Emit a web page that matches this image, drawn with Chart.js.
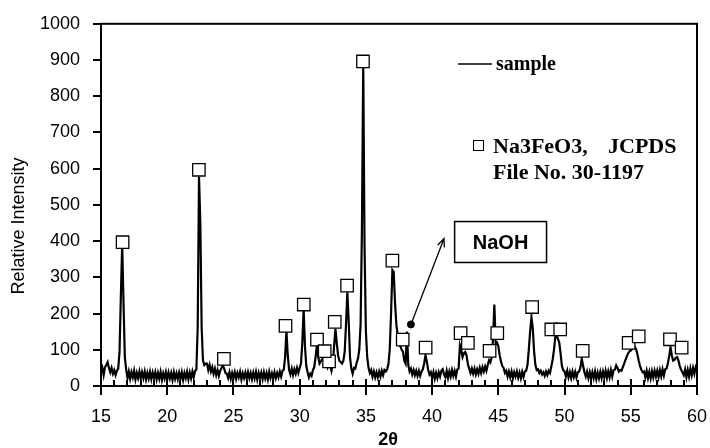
<!DOCTYPE html>
<html>
<head>
<meta charset="utf-8">
<script src="https://cdn.jsdelivr.net/npm/chart.js@4.4.1/dist/chart.umd.min.js"></script>
<style>
  html, body { margin: 0; padding: 0; background: #fff; }
  #wrap { width: 710px; height: 448px; }
</style>
</head>
<body>
<div id="wrap"><canvas id="xrdChart" width="710" height="448"></canvas></div>
<script>
// scan: 2theta from 15 to 60, one reading every 0.1 deg
const scanStart = 15;
const scanStep = 0.1;
const intensity = [
  38,50,30,52,58,66,50,38,50,34,      // 15
  44,30,42,48,95,250,392,230,80,45,   // 16
  22,40,20,38,24,42,18,36,22,40,      // 17
  20,38,22,40,18,36,21,39,19,37,      // 18
  22,38,18,36,20,39,17,35,21,38,      // 19
  18,37,21,36,17,38,20,35,19,37,      // 20
  20,38,17,36,22,39,18,37,21,40,      // 21
  24,42,45,160,578,450,160,70,58,62,  // 22
  62,44,58,40,52,34,48,30,44,28,      // 23
  42,50,57,48,36,34,22,38,20,36,      // 24
  22,38,20,36,24,39,18,35,22,37,      // 25
  20,38,22,36,19,37,21,39,18,36,      // 26
  22,37,19,38,21,36,18,39,22,35,      // 27
  20,38,22,36,24,40,26,42,45,80,      // 28
  153,85,45,32,48,30,46,34,50,36,     // 29
  50,62,120,213,110,55,38,24,34,28,   // 30
  44,52,80,112,80,62,68,74,80,58,     // 31
  62,52,68,56,42,60,110,158,120,85,   // 32
  70,66,62,70,95,170,259,180,80,48,   // 33
  34,50,48,64,75,100,170,430,890,380, // 34
  150,80,50,36,44,26,40,24,38,24,     // 35
  40,26,42,30,44,40,46,60,100,200,    // 36
  320,315,230,170,140,120,110,100,95,70, // 37
  62,150,58,40,48,32,44,30,42,28,     // 38
  42,28,40,46,62,85,68,45,32,38,      // 39
  22,38,20,36,22,38,26,42,46,32,      // 40
  24,42,22,40,26,44,28,42,26,46,      // 41
  48,112,100,80,90,94,85,60,48,36,    // 42
  48,34,48,32,46,34,50,36,52,40,      // 43
  54,42,58,71,65,80,130,225,118,120,  // 44
  110,85,68,55,50,36,42,26,40,24,     // 45
  40,22,38,26,40,23,37,21,39,25,      // 46
  40,42,58,100,150,190,160,95,58,44,  // 47
  46,36,42,32,38,28,40,30,42,36,      // 48
  54,72,100,135,140,130,120,90,55,44, // 49
  40,26,42,24,38,22,40,25,39,23,      // 50
  38,40,52,75,56,38,26,40,22,38,      // 51
  20,38,22,40,19,37,21,39,22,40,      // 52
  24,42,22,40,24,44,26,44,45,57,      // 53
  50,40,44,42,52,62,72,82,90,96,      // 54
  98,102,106,108,102,88,70,55,45,38,  // 55
  40,24,42,22,39,21,41,24,42,26,      // 56
  42,24,44,27,46,29,46,48,62,82,      // 57
  107,85,70,72,78,80,70,55,45,38,     // 58
  30,46,24,44,26,48,30,50,34,52,      // 59
  43                                  // 60
];

// Na3FeO3 reference peaks (JCPDS 30-1197) marked with squares
const refAngles = [16.63, 22.39, 24.28, 28.93, 30.31, 31.31, 32.22, 31.89, 32.65, 33.58, 34.78,
                   37.0, 37.78, 39.51, 42.15, 42.7, 44.34, 44.92, 47.55, 49.0, 49.67, 51.37,
                   54.84, 55.6, 57.96, 58.84];
const refMarks = [397, 597, 75, 166, 225, 128, 68, 96, 177, 277, 896,
                  346, 128, 106, 146, 119, 97, 146, 218, 156, 156, 97,
                  119, 137, 129, 106];

// NaOH peak: dot and arrow tip
const naohDot = [38.4, 170];
const naohArrowTip = [40.9, 407];

const yTicks = [0, 100, 200, 300, 400, 500, 600, 700, 800, 900, 1000];

const scanPoints = intensity.map((v, i) => ({ x: +(scanStart + i * scanStep).toFixed(1), y: v }));
const markPoints = refAngles.map((a, i) => ({ x: a, y: refMarks[i] }));

const decorations = {
  id: 'decorations',
  afterDraw(chart) {
    const ctx = chart.ctx;
    const area = chart.chartArea;
    const xs = chart.scales.x;
    const ys = chart.scales.y;
    ctx.save();

    // frame
    ctx.strokeStyle = '#000';
    ctx.lineWidth = 2;
    ctx.strokeRect(area.left, area.top, area.right - area.left, area.bottom - area.top);

    // x ticks: majors cross the axis, minors inside
    for (let v = 15; v <= 60; v++) {
      const px = Math.round(xs.getPixelForValue(v));
      ctx.beginPath();
      if (v % 5 === 0) {
        ctx.moveTo(px, area.bottom - 7);
        ctx.lineTo(px, area.bottom + 9);
      } else {
        ctx.moveTo(px, area.bottom - 6);
        ctx.lineTo(px, area.bottom);
      }
      ctx.stroke();
    }

    // axis titles
    ctx.fillStyle = '#000';
    ctx.font = '18px "Liberation Sans", Arial, sans-serif';
    ctx.textAlign = 'center';
    ctx.textBaseline = 'middle';
    ctx.save();
    ctx.translate(19, 226);
    ctx.rotate(-Math.PI / 2);
    ctx.fillText('Relative Intensity', 0, 0);
    ctx.restore();
    ctx.font = 'bold 18px "Liberation Sans", Arial, sans-serif';
    ctx.fillText('2θ', 388, 440);

    // legend
    ctx.lineWidth = 1.5;
    ctx.beginPath();
    ctx.moveTo(458, 64);
    ctx.lineTo(492, 64);
    ctx.stroke();
    ctx.font = 'bold 20px "Liberation Serif", "Times New Roman", serif';
    ctx.textAlign = 'left';
    ctx.textBaseline = 'alphabetic';
    ctx.fillText('sample', 496, 70);
    ctx.lineWidth = 1;
    ctx.strokeRect(473.5, 140.5, 10, 10);
    ctx.font = 'bold 22px "Liberation Serif", "Times New Roman", serif';
    ctx.fillText('Na3FeO3,', 493, 153);
    ctx.fillText('JCPDS', 608, 153);
    ctx.fillText('File No. 30-1197', 493, 179);

    // NaOH label box and arrow
    const bx0 = xs.getPixelForValue(41.7), bx1 = xs.getPixelForValue(48.64);
    const by0 = ys.getPixelForValue(454), by1 = ys.getPixelForValue(341);
    ctx.lineWidth = 1.5;
    ctx.strokeRect(bx0, by0, bx1 - bx0, by1 - by0);
    ctx.font = 'bold 20px "Liberation Sans", Arial, sans-serif';
    ctx.textAlign = 'center';
    ctx.textBaseline = 'middle';
    ctx.fillText('NaOH', (bx0 + bx1) / 2, (by0 + by1) / 2 + 1);

    const ax0 = xs.getPixelForValue(naohDot[0]), ay0 = ys.getPixelForValue(naohDot[1]);
    const ax1 = xs.getPixelForValue(naohArrowTip[0]), ay1 = ys.getPixelForValue(naohArrowTip[1]);
    ctx.lineWidth = 1.3;
    ctx.beginPath();
    ctx.moveTo(ax0, ay0);
    ctx.lineTo(ax1, ay1);
    const ang = Math.atan2(ay1 - ay0, ax1 - ax0);
    const head = 9;
    ctx.moveTo(ax1 - head * Math.cos(ang - 0.4), ay1 - head * Math.sin(ang - 0.4));
    ctx.lineTo(ax1, ay1);
    ctx.lineTo(ax1 - head * Math.cos(ang + 0.4), ay1 - head * Math.sin(ang + 0.4));
    ctx.stroke();

    ctx.restore();
  }
};

const chart = new Chart(document.getElementById('xrdChart').getContext('2d'), {
  type: 'scatter',
  data: {
    datasets: [
      {
        label: 'Na3FeO3',
        data: markPoints,
        pointStyle: 'rect',
        pointRadius: 8.8,
        pointBackgroundColor: '#fff',
        pointBorderColor: '#000',
        pointBorderWidth: 1.3,
        showLine: false,
        order: 0
      },
      {
        label: 'NaOH',
        data: [{ x: naohDot[0], y: naohDot[1] }],
        pointStyle: 'circle',
        pointRadius: 3.5,
        pointBackgroundColor: '#000',
        pointBorderColor: '#000',
        showLine: false,
        order: 0
      },
      {
        label: 'sample',
        data: scanPoints,
        showLine: true,
        borderColor: '#000',
        borderWidth: 2.2,
        pointRadius: 0,
        tension: 0,
        order: 1
      }
    ]
  },
  options: {
    responsive: false,
    animation: false,
    devicePixelRatio: 1,
    layout: { padding: { left: 0, right: 13, top: 23, bottom: 0 } },
    plugins: {
      legend: { display: false },
      tooltip: { enabled: false }
    },
    scales: {
      x: {
        type: 'linear',
        min: 15,
        max: 60,
        afterFit: s => { s.height = 62; },
        grid: { display: false, drawTicks: true, tickLength: 20 },
        border: { display: true, color: '#000', width: 2 },
        ticks: {
          stepSize: 1,
          autoSkip: false,
          maxRotation: 0,
          padding: 0,
          color: '#000',
          font: { family: '"Liberation Sans", Arial, sans-serif', size: 18 },
          callback: v => (v % 5 === 0 ? String(v) : '')
        }
      },
      y: {
        min: 0,
        max: 1000,
        afterFit: s => { s.width = 101; },
        afterBuildTicks: s => { s.ticks = yTicks.map(v => ({ value: v })); },
        grid: { drawOnChartArea: false, drawTicks: true, tickLength: 8, color: '#000', lineWidth: 2 },
        border: { display: true, color: '#000', width: 2 },
        ticks: {
          padding: 13,
          color: '#000',
          font: { family: '"Liberation Sans", Arial, sans-serif', size: 18 },
          callback: v => String(v)
        }
      }
    }
  },
  plugins: [decorations]
});
</script>
</body>
</html>
